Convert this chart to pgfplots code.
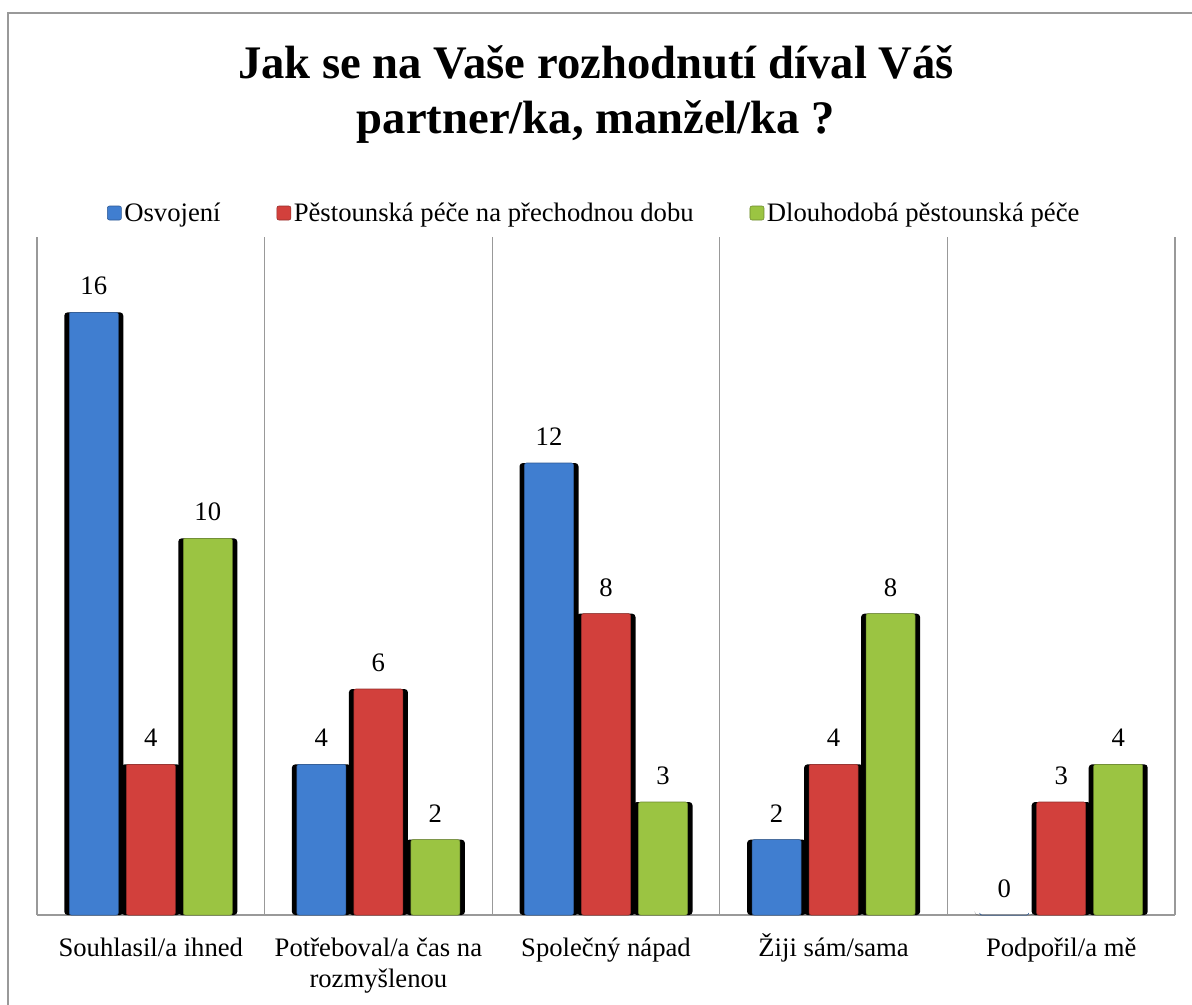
\documentclass[border=0pt]{standalone}
\usepackage{fontspec}
\setmainfont{Liberation Serif}
\usepackage{pgfplots}
\pgfplotsset{compat=1.18}
\definecolor{cblue}{RGB}{64,126,208}
\definecolor{cred}{RGB}{210,64,60}
\definecolor{cgreen}{RGB}{155,196,66}
\newcommand{\ph}{\vphantom{Ž}}
\begin{document}
\begin{tikzpicture}[x=0.75pt,y=0.75pt]
\useasboundingbox (0,0) rectangle (1192,-1004);
\draw[gray!80, line width=1.2pt] (8,-1010) -- (8,-13) -- (1200,-13);
\node[font=\bfseries\fontsize{35}{40}\selectfont, anchor=base] at (596,-78) {Jak se na Vaše rozhodnutí díval Váš};
\node[font=\bfseries\fontsize{35}{40}\selectfont, anchor=base] at (596,-133) {partner/ka, manžel/ka ?};
\begin{axis}[
  at={(27.75pt,-686.25pt)}, anchor=south west,
  scale only axis, width=853.5pt, height=508.5pt,
  xmin=-0.5, xmax=4.5, ymin=0, ymax=18,
  ybar, bar width=36.75pt,
  axis x line*=bottom, axis y line=none,
  axis line style={gray!80, line width=0.8pt, -},
  xtick={0,1,2,3,4}, major tick length=0pt,
  xticklabels={\ph Souhlasil/a ihned, {\ph Potřeboval/a čas na\\rozmyšlenou}, \ph Společný nápad, \ph Žiji sám/sama, \ph Podpořil/a mě},
  xticklabel style={align=center, font=\fontsize{20}{23}\selectfont, yshift=-10.5pt},
  minor xtick={-0.5,0.5,1.5,2.5,3.5,4.5},
  minor tick length=0pt,
  xminorgrids, minor grid style={gray!80, line width=0.8pt},
  ytick=\empty,
  /pgf/number format/assume math mode=true,
  nodes near coords style={font=\fontsize{20}{22}\selectfont, black, yshift=9.5pt},
  legend style={at={(0.49,1.0354)}, anchor=center, draw=none, fill=none,
    font=\fontsize{20}{22}\selectfont, legend columns=3,
    /tikz/every even column/.append style={column sep=40pt},
    inner sep=0pt},
  legend image code/.code={\fill[#1] (0pt,-5.25pt) rectangle (10.5pt,5.25pt);},
]
% shadows
\addplot[forget plot, fill=black, draw=none, rounded corners=2.5pt, bar width=44.25pt, bar shift=-42.75pt] coordinates {(0,16) (1,4) (2,12) (3,2) (4,0)};
\addplot[forget plot, fill=black, draw=none, rounded corners=2.5pt, bar width=44.25pt, bar shift=0pt] coordinates {(0,4) (1,6) (2,8) (3,4) (4,3)};
\addplot[forget plot, fill=black, draw=none, rounded corners=2.5pt, bar width=44.25pt, bar shift=42.75pt] coordinates {(0,10) (1,2) (2,3) (3,8) (4,4)};
% bars
\addplot[fill=cblue, draw=cblue!70!black, line width=0.4pt, rounded corners=1.5pt, bar shift=-42.75pt, nodes near coords] coordinates {(0,16) (1,4) (2,12) (3,2) (4,0)};
\addplot[fill=cred, draw=cred!70!black, line width=0.4pt, rounded corners=1.5pt, bar shift=0pt, nodes near coords] coordinates {(0,4) (1,6) (2,8) (3,4) (4,3)};
\addplot[fill=cgreen, draw=cgreen!70!black, line width=0.4pt, rounded corners=1.5pt, bar shift=42.75pt, nodes near coords] coordinates {(0,10) (1,2) (2,3) (3,8) (4,4)};
\legend{Osvojení, Pěstounská péče na přechodnou dobu, Dlouhodobá pěstounská péče}
\end{axis}
\end{tikzpicture}
\end{document}
